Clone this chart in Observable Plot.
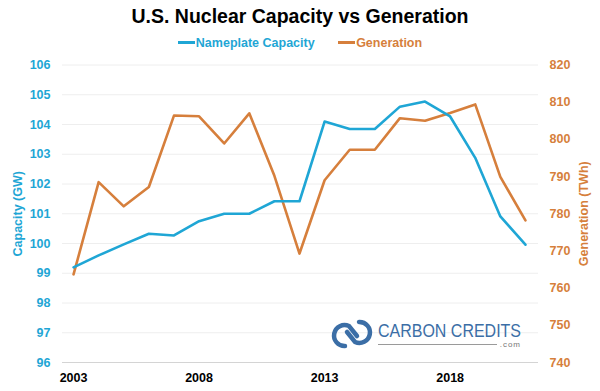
<!DOCTYPE html>
<html>
<head>
<meta charset="utf-8">
<script src="https://cdn.jsdelivr.net/npm/d3@7"></script>
<script src="https://cdn.jsdelivr.net/npm/@observablehq/plot@0.6"></script>
<style>
  html, body { margin: 0; padding: 0; background: #fff; }
  body { width: 600px; height: 391px; overflow: hidden; position: relative; font-family: "Liberation Sans", Arial, sans-serif; }
  #title { position: absolute; left: 0; top: 5px; width: 600px; text-align: center; font-weight: bold; font-size: 19.5px; color: #000; }
  #legend { position: absolute; left: 0; top: 36px; width: 600px; text-align: center; font-weight: bold; font-size: 12.5px; }
  #legend span.item { margin: 0 10px; }
  #legend span.sw { display: inline-block; width: 17px; height: 3px; vertical-align: middle; margin-right: 1px; position: relative; top: -1px; }
  #chart { position: absolute; left: 0; top: 52px; }
  #logo { position: absolute; left: 330px; top: 316px; width: 230px; height: 36px; }
</style>
</head>
<body>
<div id="title">U.S. Nuclear Capacity vs Generation</div>
<div id="legend">
  <span class="item" style="color:#1fa6d5"><span class="sw" style="background:#1fa6d5"></span>Nameplate Capacity</span>
  <span class="item" style="color:#d67f3c"><span class="sw" style="background:#d67f3c"></span>Generation</span>
</div>
<div id="chart"></div>
<div id="logo">
  <svg width="230" height="36" viewBox="0 0 230 36" style="position:absolute;left:0;top:0">
    <path d="M15 30 A10.5 10.5 0 1 1 19 10 L27 20" fill="none" stroke="#3b6ea6" stroke-width="4.5" stroke-linecap="round"/>
    <path d="M29 6 A10.5 10.5 0 1 1 25 26 L17 16" fill="none" stroke="#3b6ea6" stroke-width="4.5" stroke-linecap="round"/>
    <text x="48" y="21" font-family="Liberation Sans, Arial, sans-serif" font-size="17.5" fill="#3b6ea6" textLength="143" lengthAdjust="spacingAndGlyphs">CARBON CREDITS</text>
    <line x1="48" x2="167" y1="28.5" y2="28.5" stroke="#9a9a9a" stroke-width="1"/>
    <text x="191" y="31" text-anchor="end" font-family="Liberation Sans, Arial, sans-serif" font-size="8" fill="#777" letter-spacing="1">.com</text>
  </svg>
</div>
<script>
const years = [2003,2004,2005,2006,2007,2008,2009,2010,2011,2012,2013,2014,2015,2016,2017,2018,2019,2020,2021];
const capacityGW = [99.2,99.6,99.97,100.33,100.27,100.75,101.0,101.0,101.42,101.42,104.1,103.85,103.85,104.6,104.77,104.27,102.88,100.91,99.96];
const generationTWh = [763.7,788.5,782.0,787.2,806.4,806.2,798.9,807.0,790.2,769.3,789.0,797.2,797.2,805.7,805.0,807.1,809.4,789.9,778.2];
const capTicks = [96,97,98,99,100,101,102,103,104,105,106];
const genTicks = [740,750,760,770,780,790,800,810,820];
const xTicks = [2003,2008,2013,2018];

const blue = "#1fa6d5", orange = "#d67f3c";
// map generation onto capacity scale: 740..820 -> 96..106
const g2c = g => 96 + (g - 740) / 8;
const c2g = c => 740 + (c - 96) * 8;

const capData = years.map((y, i) => ({year: y, v: capacityGW[i]}));
const genData = years.map((y, i) => ({year: y, v: g2c(generationTWh[i])}));

const plot = Plot.plot({
  width: 600,
  height: 339,
  marginLeft: 62,
  marginRight: 62,
  marginTop: 12.5,
  marginBottom: 29,
  style: {fontFamily: "Liberation Sans, Arial, sans-serif", background: "#fff"},
  x: {domain: [2002.56, 2021.52]},
  y: {domain: [96, 106]},
  marks: [
    Plot.ruleY(capTicks.filter(d => d > 96), {stroke: "#eeeeee", strokeWidth: 1}),
    Plot.ruleY([96], {stroke: "#d4d4d4", strokeWidth: 1}),
    Plot.axisY(capTicks, {anchor: "left", tickSize: 0, tickPadding: 12, fill: blue, fontWeight: "bold", fontSize: 12.5, label: null}),
    Plot.axisY(genTicks.map(g2c), {anchor: "right", tickSize: 0, tickPadding: 11, fill: orange, fontWeight: "bold", fontSize: 12.5, tickFormat: d => String(Math.round(c2g(d))), label: null}),
    Plot.axisX(xTicks, {tickSize: 0, tickPadding: 11, fill: "#000", fontWeight: "bold", fontSize: 12.5, tickFormat: d => String(d), label: null}),
    Plot.text(["Capacity (GW)"], {frameAnchor: "left", dx: -45, rotate: -90, textAnchor: "middle", fill: blue, fontWeight: "bold", fontSize: 12.5}),
    Plot.text(["Generation (TWh)"], {frameAnchor: "right", dx: 45, rotate: -90, textAnchor: "middle", fill: orange, fontWeight: "bold", fontSize: 12.5}),
    Plot.line(genData, {x: "year", y: "v", stroke: orange, strokeWidth: 2.6}),
    Plot.line(capData, {x: "year", y: "v", stroke: blue, strokeWidth: 2.6})
  ]
});
document.getElementById("chart").appendChild(plot);
</script>
</body>
</html>
